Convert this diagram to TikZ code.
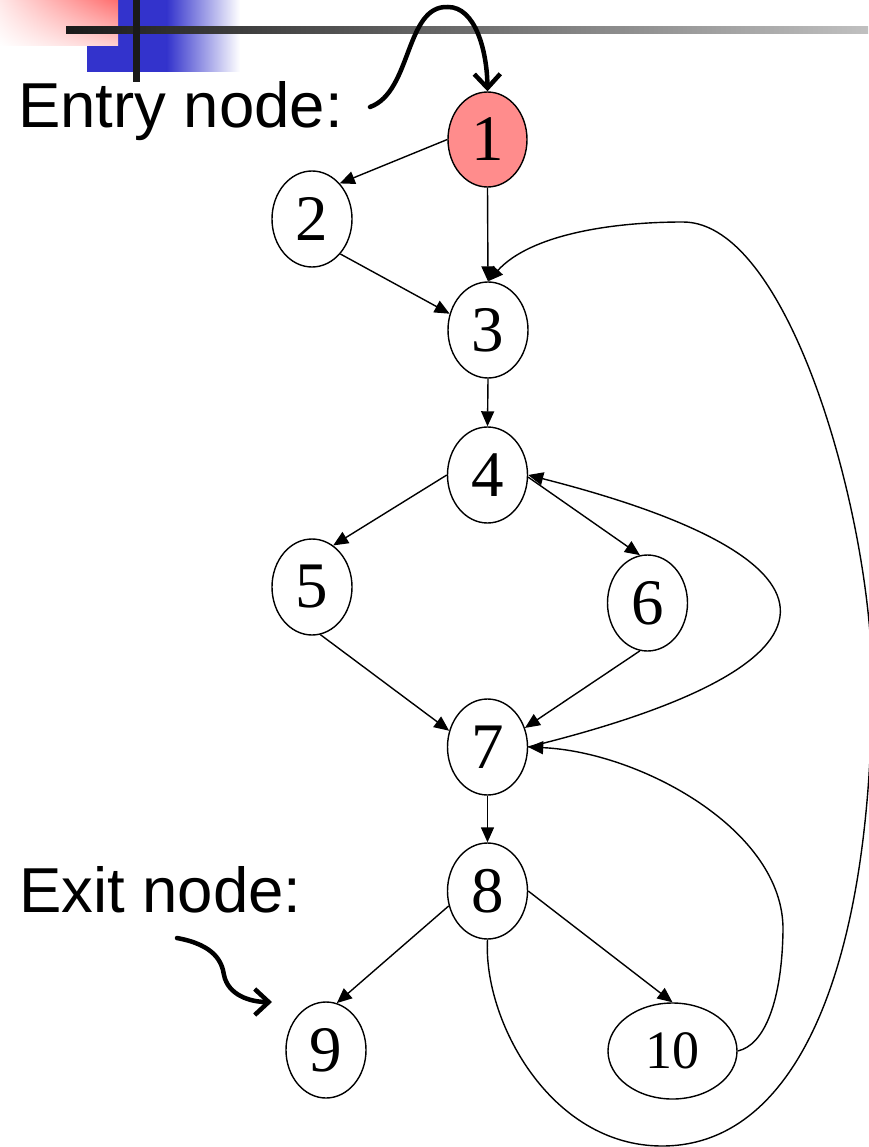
\documentclass[tikz,border=0pt]{standalone}
\usepackage{fontspec}
\setmainfont{Liberation Serif}
\newfontfamily\arialfont{Liberation Sans}
\usetikzlibrary{shapes.geometric,arrows.meta,shadings}
\definecolor{entryred}{RGB}{255,140,140}
\definecolor{decoblue}{RGB}{51,51,204}
\definecolor{decored}{RGB}{255,110,110}
\definecolor{decopale}{RGB}{255,232,232}
\definecolor{decolow}{RGB}{255,210,210}
\definecolor{decodark}{RGB}{26,26,26}
\definecolor{decogray}{RGB}{192,192,192}
\begin{document}
\begin{tikzpicture}[x=1pt,y=-1pt,
  vtx/.style={ellipse,draw,line width=1.4pt,inner sep=0pt,minimum width=80pt,minimum height=96pt,font=\fontsize{65}{65}\selectfont},
  flow/.style={line width=1.4pt,-{Triangle[length=15pt,width=13pt]}},
  callout/.style={line width=4.5pt,line cap=round,-{Straight Barb[length=14pt,width=26pt]}},
  lbltext/.style={font=\arialfont\fontsize{63.5}{63.5}\selectfont,anchor=base west,inner sep=0pt}
]
\useasboundingbox (0,0) rectangle (868,1147);
% decoration
\fill[decoblue] (87,0) rectangle (167,72);
\shade[left color=decoblue,right color=white] (166.5,0) rectangle (240,72);
\shade[upper left=decopale,upper right=decored,lower left=white,lower right=decolow] (0,0) rectangle (118,46);
\shade[left color=decodark,right color=decogray] (66,27) rectangle (868,34);
\fill[decodark] (133,0) rectangle (140,82);
% labels
\node[lbltext] (entrylbl) at (18,128) {Entry node:};
\node[lbltext] (exitlbl) at (19,912) {Exit node:};
% nodes
\node[vtx,fill=entryred,minimum width=79pt,minimum height=95pt] (n1) at (487.5,139.5) {1};
\node[vtx] (n2) at (312,219) {2};
\node[vtx] (n3) at (488,330) {3};
\node[vtx] (n4) at (487.5,475) {4};
\node[vtx] (n5) at (312,587) {5};
\node[vtx] (n6) at (647.5,603) {6};
\node[vtx] (n7) at (487.5,747) {7};
\node[vtx] (n8) at (487.5,891) {8};
\node[vtx] (n9) at (326,1050) {9};
\node[vtx,minimum width=129pt,font=\fontsize{54}{54}\selectfont] (n10) at (672.5,1051) {10};
% straight edges
\draw[flow] (n1.180) -- (n2.52);
\draw[flow] (n1.south) -- (n3.north);
\draw[flow] (n2.-51) -- (n3.157);
\draw[flow] (n3.south) -- (n4.north);
\draw[flow] (n4.180) -- (n5.63);
\draw[flow] (n4.-3) -- (n6.99);
\draw[flow] (n5.-80) -- (n7.157);
\draw[flow] (n6.-99) -- (n7.27);
\draw[flow] (n7.south) -- (n8.north);
\draw[flow] (n8.201) -- (n9.77);
\draw[flow] (n8.east) -- (n10.north);
% curved edges
\draw[flow] (n7.east) .. controls (862,665) and (862,560) .. (n4.east);
\draw[flow] (n10.east) .. controls (765,1045) and (782,1000) .. (783,930)
   .. controls (784,830) and (640,752) .. (n7.east);
\draw[flow] (n8.south) .. controls (483,1020) and (550,1146) .. (662,1146)
   .. controls (800,1146) and (872,960) .. (872,680)
   .. controls (872,520) and (790,222) .. (683,222)
   .. controls (610,222) and (530,235) .. (n3.north);
% callout arrows
\coordinate (entrystart) at (370,107);
\coordinate (exitstart) at (177,938);
\coordinate (exittip) at (272,1002);
\draw[callout] (entrystart) .. controls (412,92) and (405,5) .. (448,7)
   .. controls (475,7) and (487,50) .. (n1.north);
\draw[callout] (exitstart) .. controls (215,945) and (222,962) .. (224,975)
   .. controls (228,995) and (250,1002) .. (exittip);
\end{tikzpicture}
\end{document}
